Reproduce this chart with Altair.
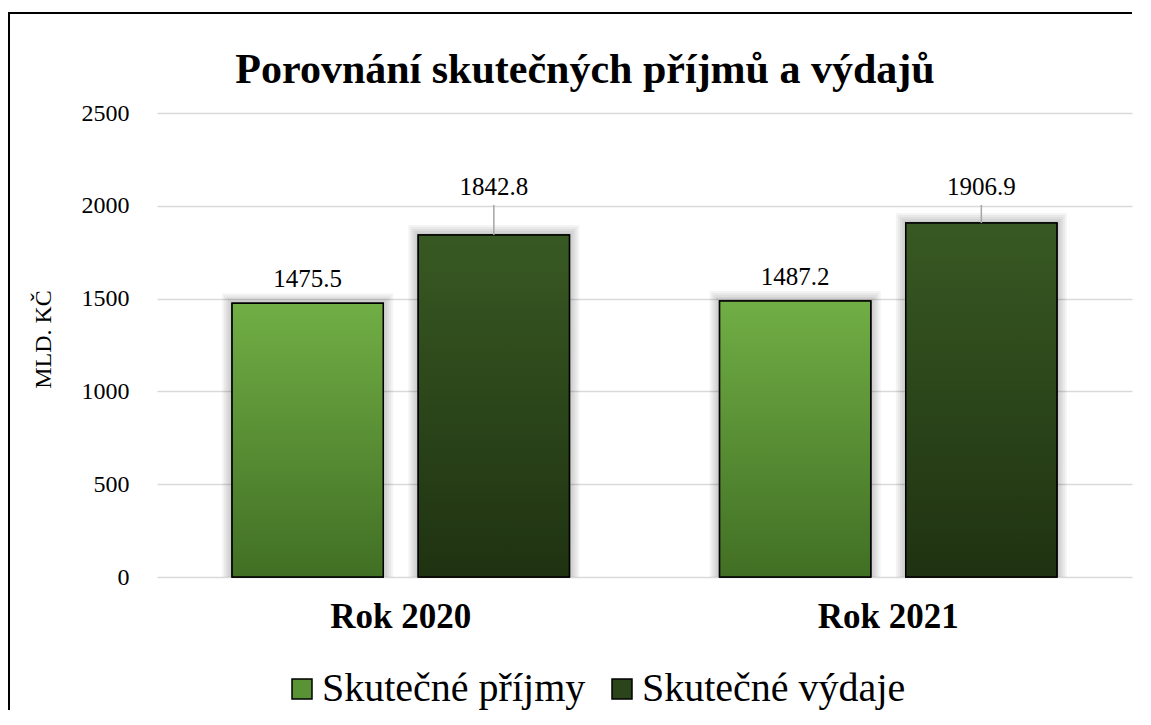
import altair as alt
import pandas as pd

title_text = "Porovnání skutečných příjmů a výdajů"
years = ["Rok 2020", "Rok 2021"]
series = ["Skutečné příjmy", "Skutečné výdaje"]
prijmy = [1475.5, 1487.2]
vydaje = [1842.8, 1906.9]
y_ticks = [0, 500, 1000, 1500, 2000, 2500]

rows = []
for i, yr in enumerate(years):
    rows.append({"year": yr, "series": series[0], "value": prijmy[i]})
    rows.append({"year": yr, "series": series[1], "value": vydaje[i]})
df = pd.DataFrame(rows)

FONT = "Liberation Serif"
green_grad = {"gradient": "linear", "x1": 0, "y1": 0, "x2": 0, "y2": 1,
              "stops": [{"offset": 0, "color": "#71ae45"}, {"offset": 1, "color": "#416f24"}]}
dark_grad = {"gradient": "linear", "x1": 0, "y1": 0, "x2": 0, "y2": 1,
             "stops": [{"offset": 0, "color": "#385923"}, {"offset": 1, "color": "#1f3211"}]}

x_enc = alt.X("year:N", sort=years, title=None,
              scale=alt.Scale(paddingInner=0.308, paddingOuter=0.154),
              axis=alt.Axis(labelFont=FONT, labelFontSize=35, labelFontWeight="bold",
                            labelColor="#000000", labelAngle=0, labelPadding=22,
                            domain=False, ticks=False))
xo_enc = alt.XOffset("series:N", sort=series,
                     scale=alt.Scale(paddingInner=0.188, paddingOuter=0))
y_enc = alt.Y("value:Q", title="MLD. KČ",
              scale=alt.Scale(domain=[0, 2500], nice=False),
              axis=alt.Axis(values=y_ticks, format="d", labelFont=FONT, labelFontSize=24,
                            labelColor="#000000", labelPadding=28, domain=False,
                            ticks=False, gridColor="#d9d9d9", gridWidth=1.5,
                            titleFont=FONT, titleFontSize=24, titleFontWeight="normal",
                            titleColor="#000000", titleX=-107, titleY=226,
                            titleBaseline="alphabetic"))

base = alt.Chart(df)

shadows = [
    base.mark_bar(fillOpacity=0, stroke="#000000", strokeOpacity=0.045,
                  strokeWidth=w, clip=True).encode(x=x_enc, xOffset=xo_enc, y=y_enc)
    for w in [4, 8, 12, 16, 20]
]

bars_legend = base.mark_bar(stroke="#000000", strokeWidth=1.5).encode(
    x=x_enc, xOffset=xo_enc, y=y_enc,
    color=alt.Color("series:N", sort=series,
                    scale=alt.Scale(domain=series, range=["#5a9236", "#2b441a"]),
                    legend=alt.Legend(title=None, orient="none", direction="horizontal",
                                      legendX=125, legendY=556, symbolType="square",
                                      symbolSize=400, symbolStrokeColor="#000000",
                                      symbolStrokeWidth=1.5, labelFont=FONT,
                                      labelFontSize=40, labelColor="#000000",
                                      labelOffset=0, columnPadding=16, labelLimit=500)),
)

bars_green = base.mark_bar(stroke="#000000", strokeWidth=1.5).encode(
    x=x_enc, xOffset=xo_enc, y=y_enc, color=alt.value(green_grad)
).transform_filter(alt.datum.series == series[0])

bars_dark = base.mark_bar(stroke="#000000", strokeWidth=1.5).encode(
    x=x_enc, xOffset=xo_enc, y=y_enc, color=alt.value(dark_grad)
).transform_filter(alt.datum.series == series[1])

labels_green = base.mark_text(font=FONT, fontSize=25, color="#000000", baseline="alphabetic",
                              dy=-16).encode(
    x=x_enc, xOffset=xo_enc, y=y_enc, text=alt.Text("value:Q", format=".1f")
).transform_filter(alt.datum.series == series[0])

leaders = base.mark_rule(color="#a6a6a6", strokeWidth=1.5).encode(
    x=x_enc, xOffset=xo_enc, y=y_enc, y2=alt.value(92)
).transform_filter(alt.datum.series == series[1])

labels_dark = base.mark_text(font=FONT, fontSize=25, color="#000000", baseline="alphabetic").encode(
    x=x_enc, xOffset=xo_enc, y=alt.value(82), text=alt.Text("value:Q", format=".1f")
).transform_filter(alt.datum.series == series[1])

frame_df = pd.DataFrame({"title": [title_text]})
border_left = alt.Chart(frame_df).mark_rule(color="#000000", strokeWidth=2).encode(
    x=alt.value(-148), y=alt.value(-100), y2=alt.value(600))
border_top = alt.Chart(frame_df).mark_rect(color="#000000", strokeWidth=0).encode(
    x=alt.value(-149), x2=alt.value(975), y=alt.value(-101), y2=alt.value(-99))
title_mark = alt.Chart(frame_df).mark_text(font=FONT, fontSize=42, fontWeight="bold",
                                           color="#000000", align="center",
                                           baseline="alphabetic").encode(
    x=alt.value(428), y=alt.value(-30), text="title:N")

chart = alt.layer(
    *shadows, bars_legend, bars_green, bars_dark, leaders, labels_green, labels_dark,
    border_left, border_top, title_mark
).properties(
    width=975, height=464,
    autosize=alt.AutoSizeParams(type="none"),
    padding={"left": 149, "top": 105, "right": 5, "bottom": 133},
).configure_view(stroke=None)

chart.save("out.html", embed_options={"renderer": "svg", "actions": False})
